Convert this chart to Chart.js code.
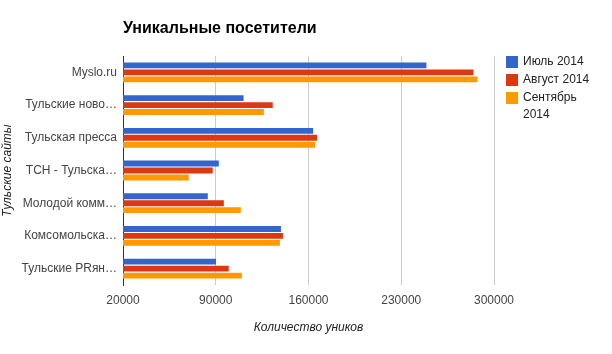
<!DOCTYPE html>
<html lang="ru">
<head>
  <meta charset="UTF-8" />
  <title>Уникальные посетители</title>
  <script src="https://cdn.jsdelivr.net/npm/chart.js@4.4.0/dist/chart.umd.min.js"></script>
  <style>
    body { margin: 0; background: #fff; }
    canvas { display: block; }
  </style>
</head>
<body>
  <canvas id="chart" width="612" height="354"></canvas>
  <script>
    const sites = ['Myslo.ru', 'Тульские ново…', 'Тульская пресса', 'ТСН - Тульска…', 'Молодой комм…', 'Комсомольска…', 'Тульские PRян…'];
    const july = [249000, 111000, 163500, 92300, 84000, 139200, 90200];
    const august = [284500, 133000, 166400, 87700, 96100, 140700, 99800];
    const september = [287500, 126300, 164900, 69600, 108900, 138400, 109700];
    const seriesNames = ['Июль 2014', 'Август 2014', ['Сентябрь', '2014']];
    const seriesColors = ['#3366cc', '#dc3912', '#ff9900'];
    const xTicks = [20000, 90000, 160000, 230000, 300000];

    const font = '"Liberation Sans", Arial, sans-serif';

    // title drawn over the chart area start, like the original
    const titlePlugin = {
      id: 'leftTitle',
      afterDraw(chart) {
        const ctx = chart.ctx;
        ctx.save();
        ctx.font = 'bold 16px ' + font;
        ctx.fillStyle = '#000';
        ctx.textBaseline = 'middle';
        ctx.fillText('Уникальные посетители', chart.chartArea.left, 29);
        ctx.restore();
      }
    };

    // legend on the right, with wrapped label
    const legendPlugin = {
      id: 'sideLegend',
      afterDraw(chart) {
        const ctx = chart.ctx;
        ctx.save();
        ctx.font = '12px ' + font;
        ctx.textBaseline = 'middle';
        let y = 62;
        chart.data.datasets.forEach(ds => {
          ctx.fillStyle = ds.backgroundColor;
          ctx.fillRect(506, y - 6, 12, 12);
          ctx.fillStyle = '#222';
          const lines = Array.isArray(ds.label) ? ds.label : [ds.label];
          lines.forEach((t, i) => ctx.fillText(t, 523, y + i * 17));
          y += 18 + (lines.length - 1) * 17;
        });
        ctx.restore();
      }
    };

    new Chart(document.getElementById('chart'), {
      type: 'bar',
      data: {
        labels: sites,
        datasets: [july, august, september].map((d, i) => ({
          label: seriesNames[i],
          data: d,
          backgroundColor: seriesColors[i],
          borderWidth: 0,
          categoryPercentage: 0.64,
          barPercentage: 0.84
        }))
      },
      options: {
        indexAxis: 'y',
        responsive: false,
        animation: false,
        layout: { padding: { top: 56, right: 118, bottom: 19, left: 0 } },
        plugins: {
          legend: { display: false },
          tooltip: { enabled: false }
        },
        scales: {
          x: {
            min: 20000,
            max: 300000,
            afterBuildTicks: axis => { axis.ticks = xTicks.map(v => ({ value: v })); },
            afterFit: axis => { axis.height = 50; },
            grid: { color: '#cccccc', drawTicks: false },
            border: { display: false },
            ticks: {
              padding: 8,
              color: '#444',
              font: { family: font, size: 12 },
              callback: v => String(v)
            },
            title: {
              display: true,
              text: 'Количество уников',
              color: '#222',
              padding: { top: 0, bottom: 0 },
              font: { family: font, size: 12, style: 'italic' }
            }
          },
          y: {
            afterFit: axis => { axis.width = 123; },
            grid: { display: false, drawTicks: false },
            border: { display: true, color: '#333333', width: 1 },
            ticks: {
              padding: 6,
              color: '#444',
              font: { family: font, size: 12 }
            },
            title: {
              display: true,
              text: 'Тульские сайты',
              color: '#222',
              padding: { top: 0, bottom: 0 },
              font: { family: font, size: 12, style: 'italic' }
            }
          }
        }
      },
      plugins: [titlePlugin, legendPlugin]
    });
  </script>
</body>
</html>
